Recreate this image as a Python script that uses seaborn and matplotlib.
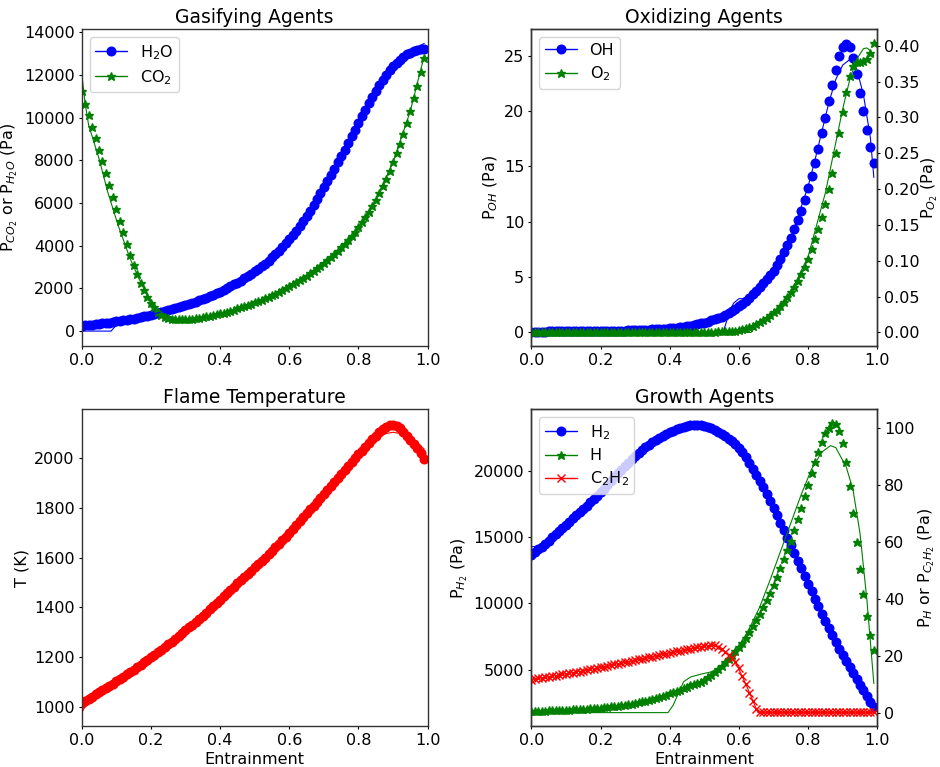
import matplotlib
matplotlib.use("Agg")
import matplotlib.pyplot as plt
from matplotlib.lines import Line2D
import seaborn as sns

# ---------------- data ----------------
entrainment = [i / 100 for i in range(100)]

h2o = [260, 275, 290, 305, 320, 340, 360, 380, 400, 425,
       450, 475, 500, 530, 560, 590, 620, 655, 690, 725,
       760, 800, 840, 880, 925, 970, 1015, 1065, 1115, 1165,
       1220, 1270, 1325, 1380, 1440, 1500, 1565, 1630, 1700, 1775,
       1850, 1930, 2010, 2095, 2185, 2275, 2370, 2470, 2575, 2685,
       2795, 2910, 3030, 3155, 3290, 3450, 3600, 3760, 3930, 4110,
       4300, 4500, 4710, 4930, 5160, 5400, 5650, 5910, 6180, 6460,
       6740, 7030, 7320, 7610, 7900, 8190, 8500, 8810, 9130, 9440,
       9750, 10070, 10380, 10680, 10970, 11250, 11520, 11770, 12000, 12210,
       12400, 12570, 12720, 12850, 12960, 13050, 13120, 13170, 13210, 13240]

co2 = [11270, 10660, 10120, 9560, 9060, 8500, 7950, 7390, 6830, 6280,
       5720, 5170, 4630, 4090, 3580, 3120, 2670, 2270, 1910, 1580,
       1310, 1110, 910, 770, 660, 595, 565, 555, 552, 555,
       560, 570, 585, 605, 630, 655, 685, 715, 750, 790,
       830, 870, 915, 960, 1010, 1060, 1110, 1165, 1220, 1280,
       1340, 1405, 1470, 1540, 1610, 1685, 1760, 1840, 1925, 2010,
       2100, 2195, 2290, 2390, 2490, 2595, 2705, 2820, 2940, 3065,
       3195, 3330, 3470, 3615, 3765, 3925, 4095, 4275, 4465, 4665,
       4875, 5095, 5343, 5592, 5874, 6155, 6454, 6783, 7125, 7500,
       7906, 8328, 8780, 9249, 9750, 10312, 10907, 11500, 12155, 12810]

h2o_fit_x = [0.0, 0.085, 0.11, 0.15, 0.2, 0.3, 0.4, 0.5, 0.6, 0.7, 0.8, 0.9, 0.95, 0.99]
h2o_fit = [0, 0, 470, 590, 760, 1220, 1850, 2795, 4300, 6740, 9750, 12400, 13100, 13480]

co2_fit_x = [0.0, 0.01, 0.02, 0.05, 0.075, 0.105, 0.14, 0.165, 0.185, 0.215, 0.24, 0.27,
             0.3, 0.35, 0.4, 0.45, 0.5, 0.55, 0.6, 0.65, 0.7, 0.75, 0.8, 0.85, 0.9, 0.95, 0.99]
co2_fit = [12080, 10670, 9660, 8090, 6530, 4970, 3400, 2470, 1840, 1060, 780, 600,
           560, 650, 820, 1050, 1330, 1680, 2100, 2600, 3200, 3930, 4880, 6160, 7910, 10320, 12900]

oh = [0.01, 0.01, 0.01, 0.01, 0.01, 0.02, 0.02, 0.02, 0.02, 0.02,
      0.03, 0.03, 0.03, 0.03, 0.04, 0.04, 0.04, 0.05, 0.05, 0.06,
      0.06, 0.07, 0.07, 0.08, 0.09, 0.10, 0.10, 0.11, 0.12, 0.13,
      0.14, 0.15, 0.17, 0.18, 0.19, 0.21, 0.23, 0.25, 0.27, 0.29,
      0.32, 0.35, 0.38, 0.42, 0.46, 0.50, 0.55, 0.61, 0.67, 0.75,
      0.83, 0.92, 1.02, 1.13, 1.25, 1.38, 1.53, 1.69, 1.86, 2.05,
      2.30, 2.55, 2.80, 3.10, 3.40, 3.70, 4.05, 4.40, 4.75, 5.15,
      5.55, 6.05, 6.60, 7.20, 7.85, 8.50, 9.30, 10.10, 11.00, 12.00,
      13.00, 14.10, 15.30, 16.60, 18.00, 19.40, 20.90, 22.40, 23.80, 25.00,
      25.80, 26.10, 25.80, 24.85, 23.40, 21.70, 20.00, 18.30, 16.80, 15.30]

o2 = [0.0001] * 20 + [0.0002] * 10 + [0.0003] * 10 + \
     [0.0004, 0.0004, 0.0005, 0.0005, 0.0006, 0.0006, 0.0007, 0.0007, 0.0008, 0.0009,
      0.0010, 0.0011, 0.0012, 0.0013, 0.0014, 0.0015, 0.0017, 0.0019, 0.0021, 0.0025,
      0.0033, 0.0047, 0.0060, 0.0074, 0.0093, 0.0116, 0.0140, 0.0170, 0.0200, 0.0240,
      0.0280, 0.0320, 0.0370, 0.0430, 0.0490, 0.0560, 0.0640, 0.0720, 0.0815, 0.0920,
      0.1030, 0.1160, 0.1300, 0.1440, 0.1615, 0.1790, 0.2006, 0.2230, 0.2500, 0.2790,
      0.3080, 0.3360, 0.3580, 0.3720, 0.3770, 0.3780, 0.3790, 0.3810, 0.3900, 0.4040]

oh_fit_x = [0.0, 0.555, 0.565, 0.575, 0.585, 0.60, 0.62, 0.64, 0.66, 0.70, 0.75, 0.80,
            0.82, 0.84, 0.86, 0.88, 0.90, 0.92, 0.94, 0.96, 0.98, 0.99]
oh_fit = [0, 0, 1.0, 2.0, 2.6, 3.0, 3.0, 3.3, 4.0, 5.5, 8.5, 13.2,
          15.6, 18.2, 20.8, 22.9, 24.2, 24.7, 23.9, 21.5, 17.6, 14.0]

o2_fit_x = [0.0, 0.635, 0.645, 0.66, 0.68, 0.70, 0.75, 0.80, 0.85, 0.88, 0.90,
            0.92, 0.94, 0.96, 0.97, 0.98, 0.99]
o2_fit = [0, 0, 0.006, 0.013, 0.020, 0.027, 0.056, 0.106, 0.195, 0.265, 0.312,
          0.352, 0.381, 0.396, 0.397, 0.393, 0.386]

temperature = [1015, 1023, 1032, 1040, 1049, 1057, 1066, 1075, 1084, 1093,
               1102, 1111, 1120, 1130, 1139, 1149, 1158, 1168, 1178, 1188,
               1198, 1208, 1218, 1229, 1240, 1251, 1262, 1273, 1284, 1296,
               1307, 1319, 1330, 1342, 1354, 1366, 1379, 1392, 1405, 1418,
               1431, 1444, 1457, 1470, 1483, 1496, 1509, 1522, 1535, 1548,
               1561, 1574, 1587, 1600, 1613, 1627, 1641, 1655, 1670, 1685,
               1700, 1715, 1730, 1746, 1762, 1778, 1794, 1810, 1826, 1842,
               1858, 1874, 1890, 1906, 1922, 1938, 1954, 1970, 1986, 2001,
               2016, 2031, 2046, 2060, 2076, 2092, 2106, 2118, 2128, 2134,
               2136, 2132, 2122, 2108, 2092, 2075, 2058, 2040, 2020, 1998]

temp_fit_x = [0.0, 0.02, 0.05, 0.1, 0.2, 0.3, 0.4, 0.5, 0.6, 0.7, 0.8, 0.85,
              0.88, 0.90, 0.92, 0.95, 0.99]
temp_fit = [975, 1025, 1057, 1102, 1198, 1307, 1431, 1561, 1700, 1858, 2016, 2080,
            2100, 2105, 2100, 2078, 2038]

h2 = [13650, 13860, 14080, 14300, 14520, 14750, 14990, 15230, 15470, 15710,
      15950, 16190, 16430, 16670, 16910, 17150, 17400, 17650, 17900, 18150,
      18400, 18690, 18980, 19270, 19560, 19850, 20120, 20390, 20650, 20900,
      21150, 21380, 21600, 21810, 22010, 22200, 22370, 22530, 22680, 22820,
      22950, 23070, 23180, 23280, 23370, 23440, 23480, 23500, 23490, 23460,
      23410, 23340, 23250, 23130, 22990, 22830, 22660, 22470, 22270, 22030,
      21750, 21420, 21040, 20620, 20190, 19740, 19280, 18800, 18300, 17780,
      17230, 16670, 16100, 15540, 14970, 14390, 13810, 13230, 12660, 12080,
      11500, 10920, 10350, 9790, 9240, 8690, 8140, 7590, 7070, 6570,
      6090, 5620, 5160, 4720, 4290, 3860, 3440, 3020, 2580, 2150]

h = [0.50, 0.55, 0.60, 0.65, 0.70, 0.75, 0.80, 0.85, 0.90, 0.95,
     1.00, 1.06, 1.12, 1.19, 1.26, 1.34, 1.42, 1.51, 1.60, 1.70,
     1.80, 1.92, 2.04, 2.17, 2.31, 2.46, 2.62, 2.80, 2.99, 3.20,
     3.42, 3.66, 3.92, 4.20, 4.50, 4.82, 5.16, 5.52, 5.90, 6.30,
     6.72, 7.16, 7.62, 8.10, 8.60, 9.10, 9.60, 10.10, 10.50, 10.90,
     11.6, 12.4, 13.3, 14.3, 15.3, 16.4, 17.6, 18.9, 20.3, 21.7,
     23.0, 24.6, 26.3, 28.3, 30.4, 32.4, 34.6, 37.0, 39.5, 42.0,
     44.7, 47.7, 50.6, 53.9, 57.0, 60.2, 64.1, 67.9, 71.9, 76.1,
     79.9, 84.0, 87.8, 91.3, 94.8, 98.0, 100.0, 101.5, 101.2, 98.8,
     94.5, 87.8, 79.5, 69.9, 60.0, 50.4, 41.7, 34.0, 27.4, 21.9]

c2h2 = [11.6, 11.8, 12.0, 12.2, 12.4, 12.6, 12.8, 13.0, 13.2, 13.4,
        13.6, 13.8, 14.0, 14.2, 14.4, 14.65, 14.9, 15.15, 15.4, 15.65,
        15.9, 16.15, 16.4, 16.65, 16.9, 17.15, 17.4, 17.65, 17.9, 18.15,
        18.4, 18.65, 18.9, 19.15, 19.4, 19.65, 19.9, 20.2, 20.5, 20.75,
        21.0, 21.25, 21.5, 21.75, 22.0, 22.25, 22.5, 22.75, 23.0, 23.2,
        23.4, 23.5, 23.6, 23.6, 23.2, 22.4, 21.4, 20.3, 19.2, 17.8,
        15.5, 12.8, 10.0, 7.0, 4.0, 1.2, 0.3, 0.3, 0.3, 0.3] + [0.3] * 30

h2_fit_x = [0.0, 0.012, 0.02, 0.1, 0.2, 0.3, 0.4, 0.47, 0.55, 0.6, 0.7, 0.8, 0.9, 0.99]
h2_fit = [14300, 14300, 14080, 15950, 18400, 21150, 22950, 23500, 22830, 21750,
          17230, 11500, 6090, 2050]

h_fit_x = [0.0, 0.395, 0.41, 0.425, 0.44, 0.46, 0.49, 0.52, 0.545, 0.575, 0.60, 0.63,
           0.66, 0.69, 0.72, 0.75, 0.78, 0.81, 0.84, 0.865, 0.88, 0.91, 0.93, 0.95,
           0.97, 0.99]
h_fit = [0, 0, 2.6, 6.7, 10.8, 12.5, 13.5, 14.3, 15.8, 19.0, 23.2, 29.5,
         37.0, 46.5, 56.5, 66.5, 76.5, 85.5, 91.5, 93.7, 93.0, 86.3, 78.1, 62.9,
         39.5, 10.2]

c2h2_fit_x = [0.0, 0.1, 0.2, 0.3, 0.4, 0.5, 0.53, 0.56, 0.59, 0.62, 0.655, 0.99]
c2h2_fit = [11.6, 13.6, 15.9, 18.4, 21.0, 23.4, 23.6, 21.4, 17.8, 10.0, 0.0, 0.0]

# ---------------- style ----------------
sns.set_style("ticks")
plt.rcParams["font.family"] = ["DejaVu Sans"]
plt.rcParams["mathtext.fontset"] = "dejavusans"
plt.rcParams["xtick.labelsize"] = 11.5
plt.rcParams["ytick.labelsize"] = 11.5
plt.rcParams["axes.labelsize"] = 11.5
plt.rcParams["axes.titlesize"] = 13.5
plt.rcParams["axes.titlepad"] = 4.3
plt.rcParams["axes.labelpad"] = 2.9
plt.rcParams["legend.fontsize"] = 11.5
plt.rcParams["legend.labelspacing"] = 0.4
plt.rcParams["legend.borderpad"] = 0.35
plt.rcParams["xtick.major.size"] = 2.5
plt.rcParams["ytick.major.size"] = 2.5
plt.rcParams["xtick.major.pad"] = 2.5
plt.rcParams["ytick.major.pad"] = 2.5
plt.rcParams["axes.edgecolor"] = "0.2"
plt.rcParams["axes.linewidth"] = 1.0
plt.rcParams["text.color"] = "black"
plt.rcParams["xtick.color"] = "black"
plt.rcParams["ytick.color"] = "black"
plt.rcParams["axes.labelcolor"] = "black"

fig, axes = plt.subplots(2, 2, figsize=(9.4, 7.67), dpi=100)
fig.subplots_adjust(left=0.0869, right=0.9333, bottom=0.0535, top=0.9618,
                    wspace=0.2995, hspace=0.201)

MS = {"o": 6.2, "*": 6.3, "x": 5.2}


def draw_markers(ax, y, color, marker):
    sns.lineplot(x=entrainment, y=y, ax=ax, color=color, marker=marker,
                 linestyle="none", markersize=MS[marker], markeredgecolor=color,
                 markeredgewidth=1.0, errorbar=None, sort=False)


def draw_fit(ax, x, y, color):
    sns.lineplot(x=x, y=y, ax=ax, color=color, linewidth=0.8,
                 errorbar=None, sort=False)


def handle(color, marker, label):
    return Line2D([0], [0], color=color, marker=marker, lw=1.0,
                  markersize=MS[marker], markeredgecolor=color, label=label)


# --- Gasifying agents ---
ax = axes[0, 0]
draw_markers(ax, h2o, "b", "o")
draw_markers(ax, co2, "g", "*")
draw_fit(ax, h2o_fit_x, h2o_fit, "b")
draw_fit(ax, co2_fit_x, co2_fit, "g")
ax.set_xlim(0, 1)
ax.set_ylim(-690, 14140)
ax.set_title("Gasifying Agents")
ax.set_ylabel(r"P$_{CO_2}$ or P$_{H_2O}$ (Pa)")
ax.set_xlabel("")
ax.legend(handles=[handle("b", "o", r"H$_2$O"), handle("g", "*", r"CO$_2$")],
          loc="upper left")

# --- Oxidizing agents ---
ax = axes[0, 1]
ax2 = ax.twinx()
draw_markers(ax, oh, "b", "o")
draw_fit(ax, oh_fit_x, oh_fit, "b")
draw_markers(ax2, o2, "g", "*")
draw_fit(ax2, o2_fit_x, o2_fit, "g")
ax.set_xlim(0, 1)
ax.set_ylim(-1.28, 27.45)
ax2.set_ylim(-0.0186, 0.423)
ax.set_title("Oxidizing Agents")
ax.set_ylabel(r"P$_{OH}$ (Pa)")
ax2.set_ylabel(r"P$_{O_2}$ (Pa)", labelpad=0.0)
ax.set_xlabel("")
ax2.legend(handles=[handle("b", "o", "OH"), handle("g", "*", r"O$_2$")],
           loc="upper left")

# --- Flame temperature ---
ax = axes[1, 0]
draw_markers(ax, temperature, "r", "o")
draw_fit(ax, temp_fit_x, temp_fit, "r")
ax.set_xlim(0, 1)
ax.set_ylim(922, 2197)
ax.set_title("Flame Temperature")
ax.set_ylabel("T (K)")
ax.set_xlabel("Entrainment")

# --- Growth agents ---
ax = axes[1, 1]
ax2 = ax.twinx()
draw_markers(ax, h2, "b", "o")
draw_fit(ax, h2_fit_x, h2_fit, "b")
draw_markers(ax2, h, "g", "*")
draw_fit(ax2, h_fit_x, h_fit, "g")
draw_markers(ax2, c2h2, "r", "x")
draw_fit(ax2, c2h2_fit_x, c2h2_fit, "r")
ax.set_xlim(0, 1)
ax.set_ylim(739, 24667)
ax2.set_ylim(-4.68, 106.4)
ax.set_title("Growth Agents")
ax.set_ylabel(r"P$_{H_2}$ (Pa)")
ax2.set_ylabel(r"P$_H$ or P$_{C_2H_2}$ (Pa)", labelpad=1.0)
ax.set_xlabel("Entrainment")
ax2.legend(handles=[handle("b", "o", r"H$_2$"), handle("g", "*", "H"),
                    handle("r", "x", r"C$_2$H$_2$")], loc="upper left")

fig.savefig("out.png", dpi=100)
